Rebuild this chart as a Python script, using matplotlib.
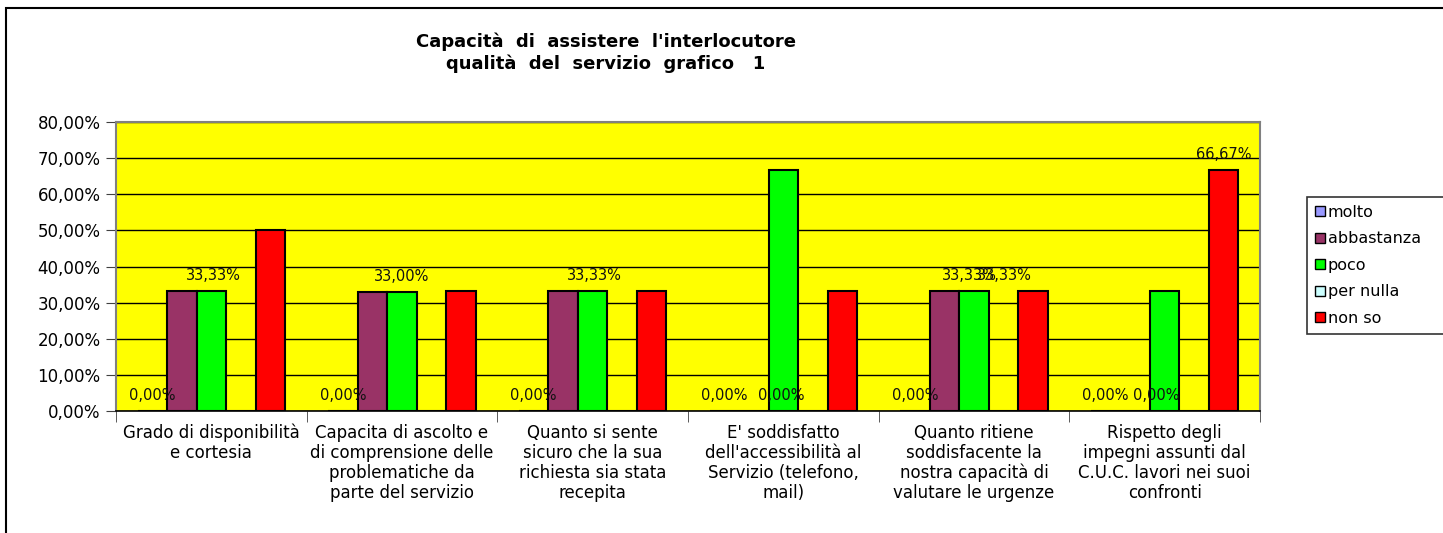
import matplotlib
matplotlib.use("Agg")
import matplotlib.pyplot as plt
from matplotlib.patches import Rectangle, Patch
import numpy as np

plt.rcParams['font.family'] = ['DejaVu Sans']

categories = [
    "Grado di disponibilità\ne cortesia",
    "Capacita di ascolto e\ndi comprensione delle\nproblematiche da\nparte del servizio",
    "Quanto si sente\nsicuro che la sua\nrichiesta sia stata\nrecepita",
    "E' soddisfatto\ndell'accessibilità al\nServizio (telefono,\nmail)",
    "Quanto ritiene\nsoddisfacente la\nnostra capacità di\nvalutare le urgenze",
    "Rispetto degli\nimpegni assunti dal\nC.U.C. lavori nei suoi\nconfronti",
]
series = ["molto", "abbastanza", "poco", "per nulla", "non so"]
molto = [0, 0, 0, 0, 0, 0]
abbastanza = [33.33, 33.00, 33.33, 0, 33.33, 0]
poco = [33.33, 33.00, 33.33, 66.67, 33.33, 33.33]
per_nulla = [0, 0, 0, 0, 0, 0]
non_so = [50.00, 33.33, 33.33, 33.33, 33.33, 66.67]
values = [molto, abbastanza, poco, per_nulla, non_so]
colors = ["#9999FF", "#993366", "#00FF00", "#CCFFFF", "#FF0000"]

# data labels shown: (category index, series index, horizontal shift in px)
labels_shown = [
    (0, 0, 0), (1, 0, 0), (2, 0, 0), (3, 0, 0), (4, 0, 0), (5, 0, 0),
    (0, 2, 2), (1, 2, 0), (2, 2, 2),
    (3, 1, 27), (4, 1, 25), (4, 2, 30), (5, 1, 21),
    (5, 4, 0),
]

W, H = 1443, 533
fig = plt.figure(figsize=(W / 100, H / 100), dpi=100)
ax = fig.add_axes([116 / W, 1 - 411 / H, (1260 - 116) / W, (411 - 122) / H])
ax.set_facecolor("#FFFF00")

n = len(series)
bw = 29.5 / 190.5
x = np.arange(len(categories))
for j in range(n):
    ax.bar(x + (j - (n - 1) / 2) * bw, values[j], width=bw, color=colors[j],
           edgecolor="black", linewidth=1.5, zorder=3, label=series[j])

def fmt(v):
    return f"{v:.2f}".replace(".", ",") + "%"

for ci, sj, dx in labels_shown:
    v = values[sj][ci]
    ax.annotate(fmt(v), (ci + (sj - (n - 1) / 2) * bw, v), xytext=(dx * 0.72, 11),
                textcoords="offset points", ha="center", va="center",
                fontsize=10.5, color="#111111", zorder=5)

ax.set_xlim(-0.5, len(categories) - 0.5)
ax.set_ylim(0, 80)
ax.set_yticks(np.arange(0, 81, 10))
ax.set_yticklabels([fmt(v) for v in np.arange(0, 81, 10)], fontsize=12)
ax.yaxis.grid(True, color="black", linewidth=1)
ax.set_axisbelow(True)
ax.set_xticks(x)
ax.set_xticklabels(categories, fontsize=12, linespacing=1.15)
ax.set_xticks(np.arange(-0.5, len(categories)), minor=True)
ax.tick_params(axis="x", which="major", length=0, pad=9)
ax.tick_params(axis="x", which="minor", length=8, color="#404040")
ax.tick_params(axis="y", length=7, color="#404040", pad=4)
for s in ["top", "right", "left"]:
    ax.spines[s].set_color("#808080")
    ax.spines[s].set_linewidth(1.5)
ax.spines["bottom"].set_color("black")
ax.spines["bottom"].set_linewidth(1.2)

fig.text(606 / W, 1 - 42 / H, "Capacità  di  assistere  l'interlocutore",
         ha="center", va="center", fontsize=13, fontweight="bold")
fig.text(606 / W, 1 - 64 / H, "qualità  del  servizio  grafico   1",
         ha="center", va="center", fontsize=13, fontweight="bold")

# legend box runs off the right edge, as in the original
handles = [Patch(facecolor=c, edgecolor="black", linewidth=1) for c in colors]
leg = fig.legend(handles, series, loc="upper left", mode="expand",
                 bbox_to_anchor=(1307 / W, 1 - 197 / H, 160 / W, 0), fontsize=11.5,
                 frameon=True, fancybox=False, edgecolor="black",
                 handlelength=0.6, handleheight=0.6, handletextpad=0.2,
                 labelspacing=0.72, borderpad=0.5, borderaxespad=0)
leg.get_frame().set_linewidth(1.2)

fig.patches.append(Rectangle((6 / W, -0.1), 1.2, 1 - 8 / H + 0.1,
                             transform=fig.transFigure, fill=False,
                             edgecolor="black", linewidth=1.5))

fig.savefig("out.png", dpi=100)
